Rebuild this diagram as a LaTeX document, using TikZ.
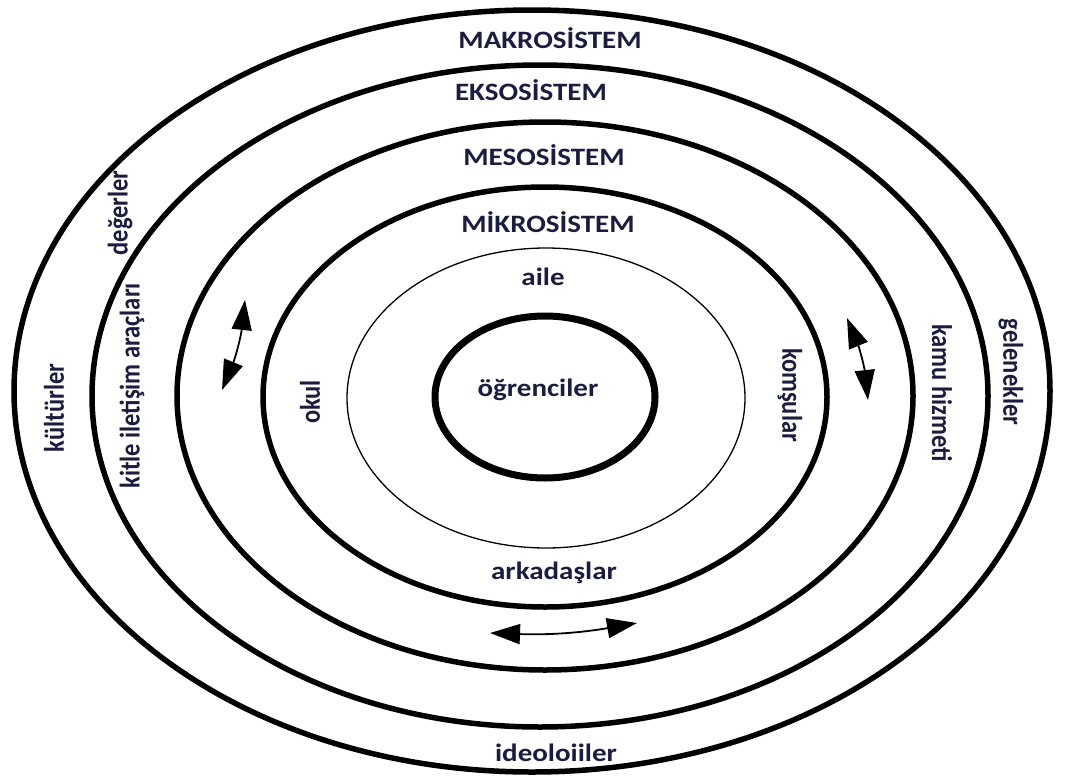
\documentclass[tikz,border=0pt]{standalone}
\usepackage{fontspec}
\setmainfont{Carlito}
\newfontfamily\widefont[FakeStretch=1.16]{Carlito}
\usetikzlibrary{arrows.meta}
\definecolor{labelblue}{RGB}{28,28,62}

\begin{document}
\begin{tikzpicture}[x=1pt,y=-1pt,
    ring/.style={line width=5.5pt},
    lbl/.style={font=\widefont\fontsize{25}{30}\selectfont\bfseries, text=labelblue, inner sep=0pt},
    sidelbl/.style={font=\fontsize{24.5}{29}\selectfont\bfseries, text=labelblue, inner sep=0pt, transform shape, xscale=1.16, rotate=#1},
    twoway/.style={line width=1.8pt, {Triangle[length=30pt,width=20pt]}-{Triangle[length=30pt,width=20pt]}}]
    \useasboundingbox (0,0) rectangle (1068,779);

    % the six rings
    \draw [ring] (532,391) ellipse [x radius=518pt, y radius=381pt];
    \draw [ring] (540,396) ellipse [x radius=448pt, y radius=331pt];
    \draw [ring] (545,396) ellipse [x radius=368pt, y radius=274pt];
    \draw [ring] (545,397) ellipse [x radius=282pt, y radius=210pt];
    \draw [line width=1.3pt] (546,398) ellipse [x radius=199pt, y radius=150pt];
    \draw [line width=7pt] (545,397) ellipse [x radius=110pt, y radius=81pt];

    % ring names
    \node [lbl] (makro) at (550,38) {MAKROSİSTEM};
    \node [lbl] (ekso) at (531,90) {EKSOSİSTEM};
    \node [lbl] (meso) at (544,155) {MESOSİSTEM};
    \node [lbl] (mikro) at (548,222) {MİKROSİSTEM};

    % centre and microsystem
    \node [lbl] (ogr) at (538,390) {öğrenciler};
    \node [lbl] (aile) at (543,277) {aile};
    \node [lbl] (arkadas) at (554,573) {arkadaşlar};
    \node [sidelbl=90] (okul) at (310,402) {okul};
    \node [sidelbl=-90] (komsu) at (790,395) {komşular};

    % outer rings
    \node [lbl] (ideo) at (556,753) {ideoloiiler};
    \node [sidelbl=90] (kultur) at (54,408) {kültürler};
    \node [sidelbl=90] (deger) at (120,213) {değerler};
    \node [sidelbl=90] (kitle) at (132,386) {kitle iletişim araçları};
    \node [sidelbl=-90] (kamu) at (942,393) {kamu hizmeti};
    \node [sidelbl=-90] (gelenek) at (1011,372) {gelenekler};

    % two-way arrows
    \coordinate (lefta) at (222,390);
    \coordinate (leftb) at (245,300);
    \coordinate (righta) at (847,318);
    \coordinate (rightb) at (868,400);
    \coordinate (bota) at (490,633);
    \coordinate (botb) at (637,623);
    \draw [twoway] (lefta) to[bend right=8] (leftb);
    \draw [twoway] (righta) to[bend left=8] (rightb);
    \draw [twoway] (bota) to[bend right=6] (botb);
\end{tikzpicture}
\end{document}
